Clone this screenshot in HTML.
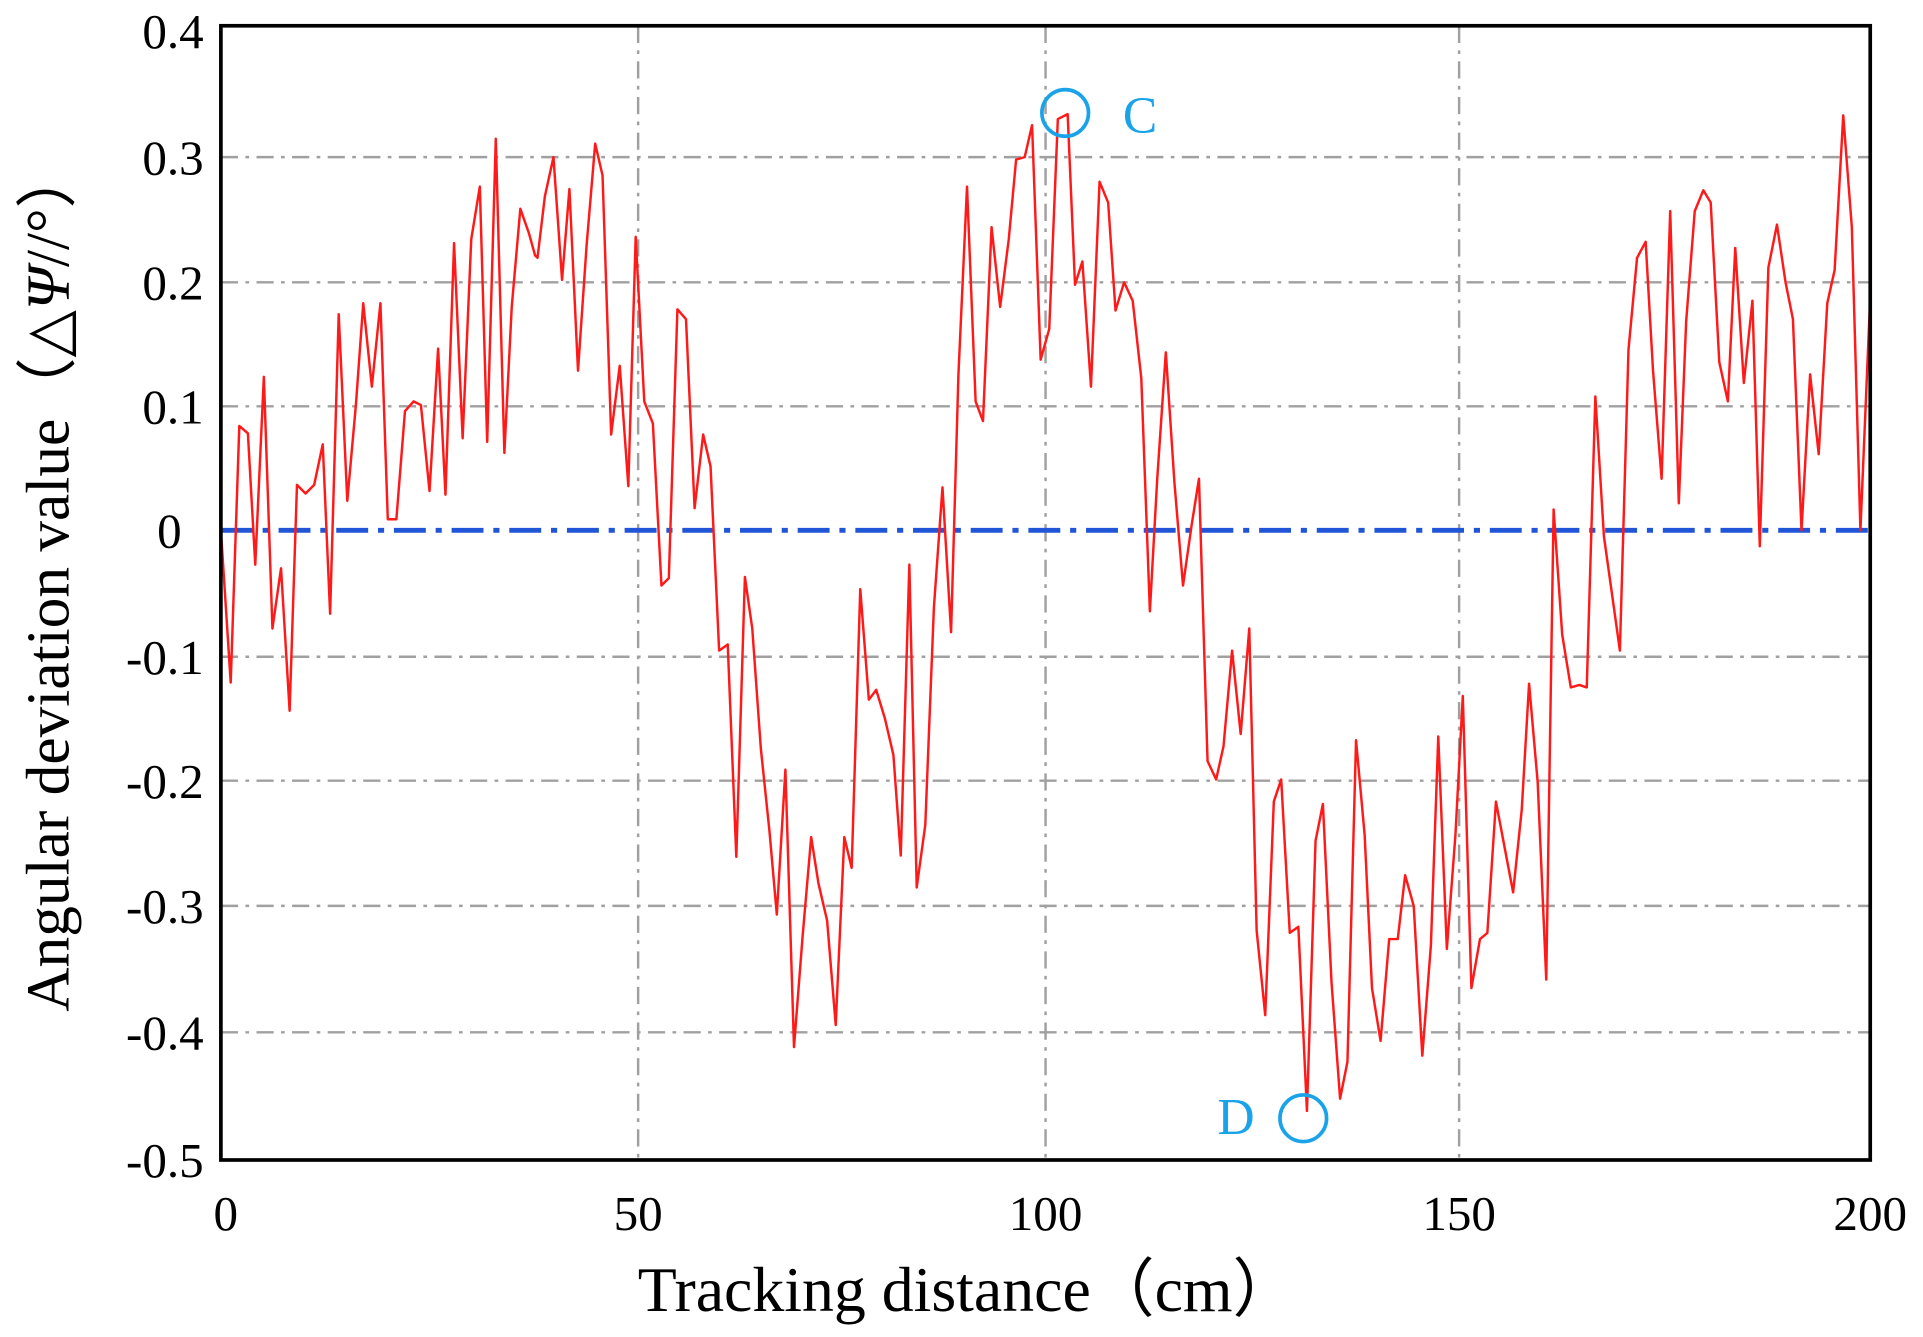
<!DOCTYPE html>
<html><head><meta charset="utf-8"><style>
html,body{margin:0;padding:0;background:#fff;}
svg{display:block;}
text{font-family:"Liberation Serif","DejaVu Serif",serif;fill:#000;}
</style></head><body>
<svg width="1923" height="1337" viewBox="0 0 1567 1089.2" preserveAspectRatio="none" xmlns="http://www.w3.org/2000/svg">
<g stroke="#a0a0a0" stroke-width="2" stroke-dasharray="14,6,3,6" fill="none">
<line x1="180" y1="128" x2="1524" y2="128"/>
<line x1="180" y1="230" x2="1524" y2="230"/>
<line x1="180" y1="331" x2="1524" y2="331"/>
<line x1="180" y1="535" x2="1524" y2="535"/>
<line x1="180" y1="636" x2="1524" y2="636"/>
<line x1="180" y1="738" x2="1524" y2="738"/>
<line x1="180" y1="841" x2="1524" y2="841"/>
<line x1="520" y1="21" x2="520" y2="945"/>
<line x1="852" y1="21" x2="852" y2="945"/>
<line x1="1189" y1="21" x2="1189" y2="945"/>
</g>
<line x1="180" y1="432" x2="1524" y2="432" stroke="#1f55d6" stroke-width="4" stroke-dasharray="26,8,5,8"/>
<polyline fill="none" stroke="#ff1a1a" stroke-width="2" stroke-linejoin="round" points="180,432 188,556 195,347 202,353 208,460 215,307 222,512 229,463 236,579 242,395 249,402 256,395 263,362 269,500 276,256 283,408 290,330 296,247 303,315 310,247 316,423 323,423 330,335 337,327 343,330 350,400 357,284 363,403 370,198 377,357 384,195 391,152 397,360 404,113 411,369 417,250 424,170 431,190 436,208 438,210 444,160 451,128 458,228 464,154 471,302 478,200 485,117 491,143 498,354 505,298 512,396 518,193 525,327 532,345 539,477 545,471 552,252 559,260 566,414 573,354 579,380 586,530 593,525 600,698 607,470 613,512 620,610 627,677 633,745 640,627 647,853 654,763 661,682 667,720 674,750 681,835 688,682 694,707 701,480 708,570 714,562 721,585 728,615 734,697 741,460 747,723 754,672 761,495 768,397 775,515 781,305 788,152 795,327 801,343 808,185 815,250 822,195 828,130 835,128 841,102 848,293 855,268 862,97 870,93 876,232 882,213 889,315 896,148 903,165 909,253 916,230 923,245 930,308 937,498 943,390 950,287 957,393 964,477 971,428 977,390 984,620 991,635 997,608 1004,530 1011,598 1018,512 1024,758 1031,827 1038,653 1044,635 1051,760 1058,755 1065,905 1072,685 1078,655 1085,800 1092,895 1098,865 1105,603 1112,680 1118,805 1125,848 1132,765 1139,765 1145,713 1152,738 1159,860 1166,770 1172,600 1179,773 1186,680 1192,567 1199,805 1206,765 1212,760 1219,653 1226,690 1233,727 1240,660 1246,557 1253,637 1260,798 1266,415 1273,517 1280,560 1287,558 1293,560 1300,323 1307,437 1314,487 1320,530 1327,285 1334,210 1341,197 1347,302 1354,390 1361,172 1368,410 1374,262 1381,172 1388,155 1394,165 1401,295 1408,327 1414,202 1421,312 1428,245 1434,445 1441,218 1448,183 1455,230 1461,260 1468,432 1475,305 1482,370 1489,247 1495,220 1502,94 1509,185 1516,432 1524,242"/>
<rect x="180" y="21" width="1344" height="924" fill="none" stroke="#000" stroke-width="3"/>
<g font-size="40" text-anchor="end">
<text x="166" y="39">0.4</text>
<text x="166" y="142">0.3</text>
<text x="166" y="244">0.2</text>
<text x="166" y="345">0.1</text>
<text x="148" y="446">0</text>
<text x="166" y="549">-0.1</text>
<text x="166" y="650">-0.2</text>
<text x="166" y="752">-0.3</text>
<text x="166" y="855">-0.4</text>
<text x="166" y="959">-0.5</text>
</g>
<g font-size="40" text-anchor="middle">
<text x="184" y="1002">0</text>
<text x="520" y="1002">50</text>
<text x="852" y="1002">100</text>
<text x="1189" y="1002">150</text>
<text x="1524" y="1002">200</text>
</g>
<text x="788" y="1068" font-size="52" text-anchor="middle">Tracking distance（cm）</text>
<text transform="translate(56,472) rotate(-90)" font-size="50" text-anchor="middle">Angular deviation value（△<tspan font-style="italic">Ψ</tspan>//°）</text>
<g stroke="#1aa3e8" stroke-width="3" fill="none">
<circle cx="868" cy="92" r="19"/>
<circle cx="1062" cy="911" r="19"/>
</g>
<text x="915" y="108" font-size="42" style="fill:#1aa3e8">C</text>
<text x="992" y="924" font-size="42" style="fill:#1aa3e8">D</text>
</svg>
</body></html>
